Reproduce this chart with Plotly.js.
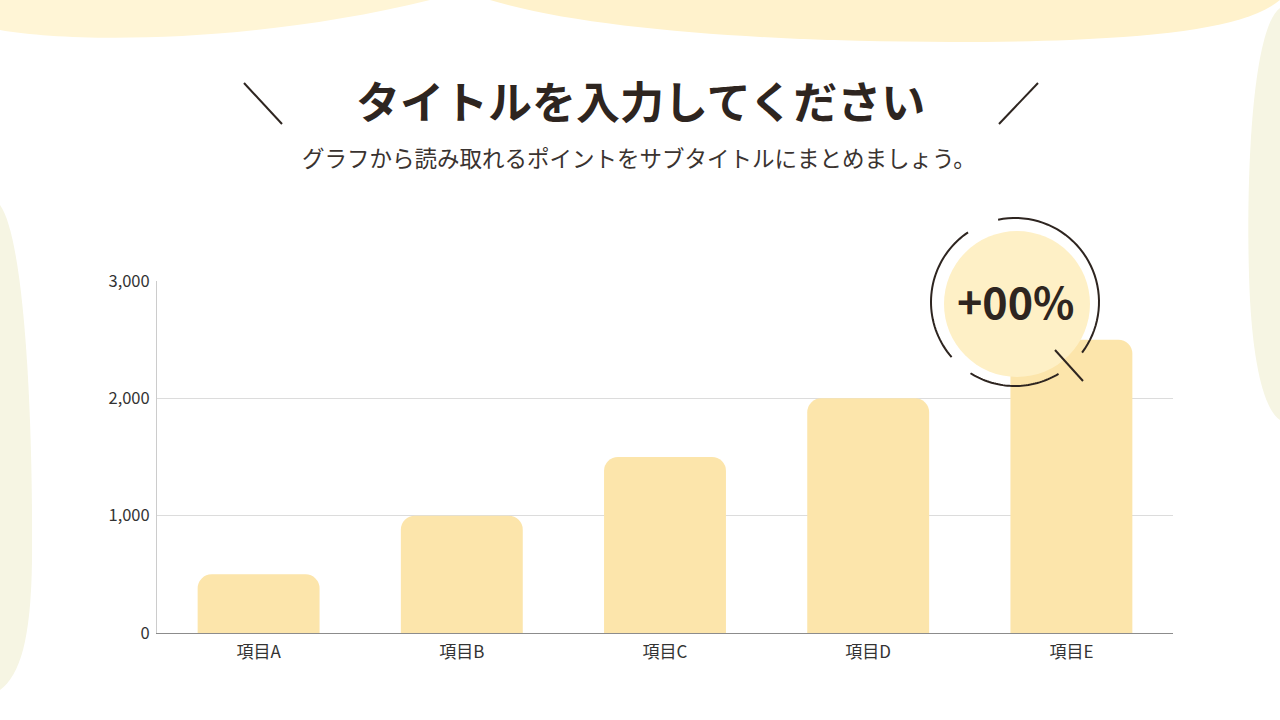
<!DOCTYPE html>
<html>
<head>
<meta charset="utf-8">
<script src="https://cdn.plot.ly/plotly-3.0.1.min.js"></script>
<style>
  html, body { margin: 0; padding: 0; background: #ffffff; }
  #chart { width: 1280px; height: 720px; }
</style>
</head>
<body>
<div id="chart"></div>
<script>
const categories = ['項目A', '項目B', '項目C', '項目D', '項目E'];
const values = [500, 1000, 1500, 2000, 2500];
const yTicks = [0, 1000, 2000, 3000];

const titleText = 'タイトルを入力してください';
const subtitleText = 'グラフから読み取れるポイントをサブタイトルにまとめましょう。';
const badgeText = '+00%';

const FONT = '"Noto Sans CJK JP", "Noto Sans", sans-serif';
const INK = '#2e2520';

// plot area in pixels
const W = 1280, H = 720;
const L = 157, R = 1173, T = 281, B = 633;

// pixel -> paper helpers for decorations
const px = x => (x - L) / (R - L);
const py = y => (B - y) / (B - T);

function pathFrom(cmds) {
    // cmds: array of [letter, x1, y1, x2, y2, ...] in pixels
    return cmds.map(c => {
        let s = c[0];
        for (let i = 1; i < c.length; i += 2) {
            s += ' ' + px(c[i]).toFixed(5) + ',' + py(c[i + 1]).toFixed(5);
        }
        return s;
    }).join(' ');
}

function arcPath(cx, cy, r, a0, a1) {
    let pts = [];
    const n = 40;
    for (let i = 0; i <= n; i++) {
        const a = (a0 + (a1 - a0) * i / n) * Math.PI / 180;
        pts.push([i === 0 ? 'M' : 'L', cx + r * Math.cos(a), cy + r * Math.sin(a)]);
    }
    return pathFrom(pts);
}

let shapes = [];

// background blobs
shapes.push({
    type: 'path', xref: 'paper', yref: 'paper', layer: 'below',
    path: pathFrom([['M', 0, 0], ['L', 0, 30], ['C', 80, 44, 260, 42, 430, 0], ['Z']]),
    fillcolor: '#fff5d6', line: {width: 0},
});
shapes.push({
    type: 'path', xref: 'paper', yref: 'paper', layer: 'below',
    path: pathFrom([['M', 490, 0], ['C', 620, 40, 900, 46, 1070, 40], ['C', 1180, 35, 1250, 25, 1280, 0], ['Z']]),
    fillcolor: '#fff2cc', line: {width: 0},
});
shapes.push({
    type: 'path', xref: 'paper', yref: 'paper', layer: 'below',
    path: pathFrom([['M', 1280, 8], ['C', 1250, 30, 1245, 200, 1250, 300], ['C', 1254, 370, 1265, 410, 1280, 420], ['Z']]),
    fillcolor: '#f6f5e3', line: {width: 0},
});
shapes.push({
    type: 'path', xref: 'paper', yref: 'paper', layer: 'below',
    path: pathFrom([['M', 0, 205], ['C', 25, 240, 33, 420, 32, 560], ['C', 31, 640, 20, 675, 0, 690], ['Z']]),
    fillcolor: '#f6f5e3', line: {width: 0},
});

// title slashes
shapes.push({
    type: 'line', xref: 'paper', yref: 'paper',
    x0: px(244), y0: py(83), x1: px(282), y1: py(124),
    line: {color: INK, width: 2},
});
shapes.push({
    type: 'line', xref: 'paper', yref: 'paper',
    x0: px(1038), y0: py(83), x1: px(999), y1: py(124),
    line: {color: INK, width: 2},
});

// badge
shapes.push({
    type: 'circle', xref: 'paper', yref: 'paper', layer: 'above',
    x0: px(1017 - 73), x1: px(1017 + 73), y0: py(304 - 73), y1: py(304 + 73),
    fillcolor: '#fef0c6', line: {width: 0},
});
[[-101.6, 37], [58.8, 122], [139, 236]].forEach(function (seg) {
    shapes.push({
        type: 'path', xref: 'paper', yref: 'paper', layer: 'above',
        path: arcPath(1015, 302, 84, seg[0], seg[1]),
        line: {color: INK, width: 2},
    });
});
shapes.push({
    type: 'line', xref: 'paper', yref: 'paper', layer: 'above',
    x0: px(1055), y0: py(350), x1: px(1083), y1: py(381),
    line: {color: INK, width: 2},
});

let annotations = [
    {
        text: '<b>' + titleText + '</b>', xref: 'paper', yref: 'paper',
        x: px(640), y: py(100), xanchor: 'center', yanchor: 'middle', showarrow: false,
        font: {family: FONT, size: 44, color: INK},
    },
    {
        text: subtitleText, xref: 'paper', yref: 'paper',
        x: px(639), y: py(157), xanchor: 'center', yanchor: 'middle', showarrow: false,
        font: {family: FONT, size: 22.5, color: '#3a3330'},
    },
    {
        text: '<b>' + badgeText + '</b>', xref: 'paper', yref: 'paper',
        x: px(1016), y: py(300), xanchor: 'center', yanchor: 'middle', showarrow: false,
        font: {family: FONT, size: 43, color: INK},
    },
];

let trace = {
    type: 'bar',
    x: categories,
    y: values,
    marker: {color: '#fce5ab', cornerradius: 14},
    hoverinfo: 'none',
};

let layout = {
    width: W,
    height: H,
    margin: {l: L, r: W - R, t: T, b: H - B, pad: 0},
    paper_bgcolor: '#ffffff',
    plot_bgcolor: 'rgba(0,0,0,0)',
    showlegend: false,
    bargap: 0.4,
    font: {family: FONT, color: '#333333'},
    xaxis: {
        showgrid: false,
        showline: true,
        linecolor: '#8c8c8c',
        linewidth: 1,
        ticks: '',
        ticklabelstandoff: 4,
        tickfont: {family: FONT, size: 17, color: '#333333'},
        fixedrange: true,
    },
    yaxis: {
        range: [0, 3000],
        tickvals: yTicks,
        tickformat: ',',
        showgrid: true,
        gridcolor: '#dcdcdc',
        gridwidth: 1,
        zeroline: false,
        showline: true,
        linecolor: '#cccccc',
        linewidth: 1,
        ticks: '',
        ticklabelstandoff: 3,
        tickfont: {family: FONT, size: 16.5, color: '#333333'},
        fixedrange: true,
    },
    shapes: shapes,
    annotations: annotations,
};

Plotly.newPlot('chart', [trace], layout, {displayModeBar: false, staticPlot: true});
</script>
</body>
</html>
